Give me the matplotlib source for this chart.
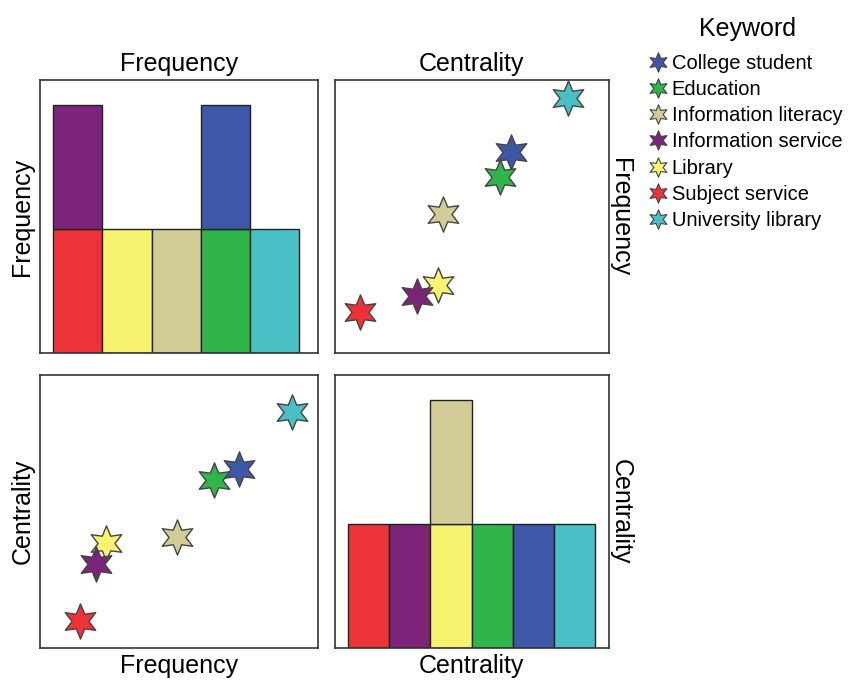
import numpy as np
import matplotlib
matplotlib.use("Agg")
import matplotlib.pyplot as plt
from matplotlib.path import Path
from matplotlib.lines import Line2D

plt.rcParams['font.family'] = ['Liberation Sans', 'DejaVu Sans']

# keyword table
keywords = ["College student", "Education", "Information literacy",
            "Information service", "Library", "Subject service",
            "University library"]
frequency = [120, 106, 85, 39, 45, 30, 150]
centrality = [0.34, 0.32, 0.21, 0.16, 0.20, 0.05, 0.45]
colors = ["#3e58a9", "#30b54a", "#d2cc96", "#7b2479", "#f8f36f", "#ee3338", "#48c0c6"]

# which bin of each histogram a keyword falls in (stacking order = list order)
freq_bins = [["Subject service", "Information service"], ["Library"],
             ["Information literacy"], ["Education", "College student"],
             ["University library"]]
cent_bins = [["Subject service"], ["Information service"],
             ["Library", "Information literacy"], ["Education"],
             ["College student"], ["University library"]]

col = dict(zip(keywords, colors))
star = Path.unit_regular_star(6, 0.48)
edge = "#444444"

fig = plt.figure(figsize=(8.48, 6.8), dpi=100)
ax_tl = fig.add_axes([0.047, 0.481, 0.328, 0.401])
ax_tr = fig.add_axes([0.395, 0.481, 0.323, 0.401])
ax_bl = fig.add_axes([0.047, 0.047, 0.328, 0.401])
ax_br = fig.add_axes([0.395, 0.047, 0.323, 0.401])


def stacked_hist(ax, bins):
    for i, members in enumerate(bins):
        bottom = 0
        for k in members:
            ax.bar(i + 0.5, 1, width=1, bottom=bottom, color=col[k],
                   edgecolor="#222222", linewidth=1)
            bottom += 1
    ax.set_ylim(0, 2.2)


stacked_hist(ax_tl, freq_bins)
ax_tl.set_xlim(-0.27, 5.38)
stacked_hist(ax_br, cent_bins)
ax_br.set_xlim(-0.32, 6.34)

# scatter panels, drawn largest first so the lower stars sit on top
order = [6, 0, 1, 2, 4, 3, 5]
for i in order:
    ax_tr.scatter(centrality[i], frequency[i], marker=star, s=640,
                  color=colors[i], edgecolor=edge, linewidth=1, zorder=3)
    ax_bl.scatter(frequency[i], centrality[i], marker=star, s=640,
                  color=colors[i], edgecolor=edge, linewidth=1, zorder=3)
ax_tr.set_xlim(0.002, 0.529)
ax_tr.set_ylim(7.0, 160.1)
ax_bl.set_xlim(7.4, 164.7)
ax_bl.set_ylim(-0.001, 0.519)

for ax in [ax_tl, ax_tr, ax_bl, ax_br]:
    ax.set_xticks([])
    ax.set_yticks([])
    for sp in ax.spines.values():
        sp.set_color("#333333")
        sp.set_linewidth(1.2)

fs = 18
ax_tl.set_title("Frequency", fontsize=fs, pad=7)
ax_tr.set_title("Centrality", fontsize=fs, pad=7)
ax_tl.set_ylabel("Frequency", fontsize=fs, labelpad=4)
ax_bl.set_ylabel("Centrality", fontsize=fs, labelpad=4)
ax_bl.set_xlabel("Frequency", fontsize=fs, labelpad=4)
ax_br.set_xlabel("Centrality", fontsize=fs, labelpad=4)
ax_tr.yaxis.set_label_position("right")
ax_tr.set_ylabel("Frequency", fontsize=fs, rotation=-90, labelpad=17)
ax_br.yaxis.set_label_position("right")
ax_br.set_ylabel("Centrality", fontsize=fs, rotation=-90, labelpad=17)

# legend with its title set apart
fig.text(0.881, 0.958, "Keyword", fontsize=18, ha="center", va="center")
handles = [Line2D([], [], linestyle="none", marker=star, markersize=14,
                  markerfacecolor=c, markeredgecolor=edge, markeredgewidth=0.8)
           for c in colors]
leg = fig.legend(handles, keywords, loc="upper left",
                 bbox_to_anchor=(0.766, 0.921), frameon=False, fontsize=14.5,
                 handlelength=0.8, handletextpad=0.3,
                 labelspacing=0.36, borderaxespad=0, borderpad=0)

fig.savefig("out.png", dpi=100)
